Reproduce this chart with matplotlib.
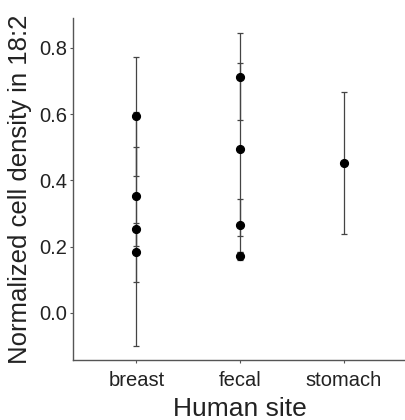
import matplotlib
matplotlib.use('Agg')
import matplotlib.pyplot as plt

# Datos
sitios = ['breast', 'fecal', 'stomach']
breast_media = [0.593, 0.352, 0.254, 0.183]
breast_error = [0.179, 0.149, 0.354, 0.090]
fecal_media = [0.713, 0.494, 0.264, 0.173]
fecal_error = [0.132, 0.261, 0.080, 0.012]
stomach_media = [0.453]
stomach_error = [0.214]

plt.rcParams['font.family'] = ['Liberation Sans', 'DejaVu Sans']

fig = plt.figure(figsize=(4.06, 4.2), dpi=100)
ax = fig.add_axes([0.18, 0.142, 0.82, 0.815])

grupos = [(breast_media, breast_error), (fecal_media, fecal_error), (stomach_media, stomach_error)]
for i, (medias, errores) in enumerate(grupos):
    ax.errorbar([i] * len(medias), medias, yerr=errores, fmt='o', color='black',
                ecolor='#444444', elinewidth=0.9, capsize=2.3, capthick=0.9,
                markersize=5.6)

ax.set_xticks(range(len(sitios)))
ax.set_xticklabels(sitios)
ax.set_xlim(-0.61, 2.6)
ax.set_ylim(-0.143, 0.89)
ax.set_yticks([0.0, 0.2, 0.4, 0.6, 0.8])
ax.set_yticklabels(['0.0', '0.2', '0.4', '0.6', '0.8'])

ax.spines['top'].set_visible(False)
ax.spines['right'].set_visible(False)
for s in ['left', 'bottom']:
    ax.spines[s].set_color('#555555')
    ax.spines[s].set_linewidth(1.0)
ax.tick_params(axis='both', labelsize=14.5, length=2.5, width=0.8, color='#555555',
               labelcolor='#222222')
ax.tick_params(axis='y', pad=2)
ax.tick_params(axis='x', pad=5)

ax.set_xlabel('Human site', fontsize=19, color='#222222', labelpad=5)
ax.set_ylabel('Normalized cell density in 18:2', fontsize=18.5, color='#222222', labelpad=5)

fig.savefig('out.png', dpi=100)
